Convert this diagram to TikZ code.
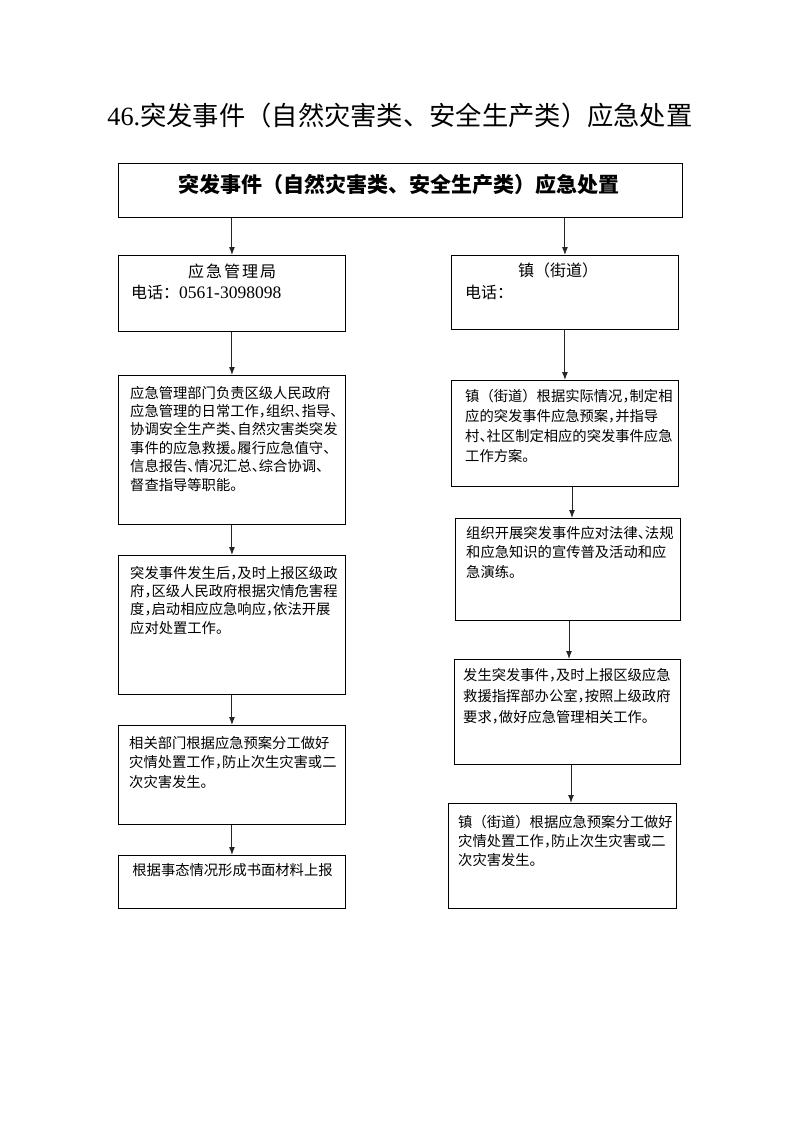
\documentclass[tikz,border=0pt]{standalone}
\usepackage{fontspec}
\setmainfont{Liberation Serif}
\newfontfamily\cjk{Noto Sans CJK SC}
\newfontfamily\cjkh[RawFeature=+halt]{Noto Sans CJK SC}
\usetikzlibrary{arrows.meta}
\begin{document}
\begin{tikzpicture}[x=1pt,y=-1pt,
 box/.style={draw,line width=0.9pt,inner sep=0pt,anchor=north west},
 arr/.style={draw=black!85,line width=1pt,-{Latex[length=8pt,width=6pt]}},
 body/.style={inner sep=0pt,anchor=base west,text width=222pt,align=left,font=\cjkh\fontsize{14.3}{#1}\selectfont}]
\useasboundingbox[fill=white] (0,0) rectangle (793,1122);

% title
\node[inner sep=0pt] (title) at (400,116) {\fontsize{26.3}{30}\selectfont 46.\cjk 突发事件（自然灾害类、安全生产类）应急处置};

% boxes
\node[box,minimum width=564pt,minimum height=54pt] (top) at (118,163) {};
\node[inner sep=0pt] (toptxt) at (399,185) {\cjk\fontsize{21}{24}\selectfont\bfseries 突发事件（自然灾害类、安全生产类）应急处置};

\node[box,minimum width=227pt,minimum height=76pt] (L1) at (118,255) {};
\node[inner sep=0pt] (L1a) at (232,271) {\cjk\fontsize{16}{18}\selectfont 应\kern2pt 急\kern2pt 管\kern2pt 理\kern2pt 局};
\node[inner sep=0pt,anchor=west] (L1b) at (131,292) {\cjk\fontsize{16}{18}\selectfont 电话：\rmfamily\fontsize{17.5}{18}\selectfont 0561-3098098};

\node[box,minimum width=227pt,minimum height=74pt] (R1) at (451,255) {};
\node[inner sep=0pt] (R1a) at (558,270) {\cjk\fontsize{16}{18}\selectfont 镇（街道）};
\node[inner sep=0pt,anchor=west] (R1b) at (465,292) {\cjk\fontsize{16}{18}\selectfont 电话：};

\node[box,minimum width=227pt,minimum height=149pt] (L2) at (118,375) {};
\node[body=18.4] (L2t) at (130,398) {应急管理部门负责区级人民政府\\应急管理的日常工作，组织、指导、\\协调安全生产类、自然灾害类突发\\事件的应急救援。履行应急值守、\\信息报告、情况汇总、综合协调、\\督查指导等职能。};

\node[box,minimum width=227pt,minimum height=139pt] (L3) at (118,555) {};
\node[body=18.4] (L3t) at (130,578) {突发事件发生后，及时上报区级政\\府，区级人民政府根据灾情危害程\\度，启动相应应急响应，依法开展\\应对处置工作。};

\node[box,minimum width=227pt,minimum height=99pt] (L4) at (118,725) {};
\node[body=19.5] (L4t) at (129,748) {相关部门根据应急预案分工做好\\灾情处置工作，防止次生灾害或二\\次灾害发生。};

\node[box,minimum width=227pt,minimum height=53pt] (L5) at (118,855) {};
\node[inner sep=0pt] (L5t) at (232.5,870) {\cjkh\fontsize{14.3}{16}\selectfont 根据事态情况形成书面材料上报};

\node[box,minimum width=227pt,minimum height=106pt] (R2) at (451,380) {};
\node[body=20.3] (R2t) at (465,401) {镇{\cjk （}街道{\cjk ）}根据实际情况，制定相\\应的突发事件应急预案，并指导\\村、社区制定相应的突发事件应急\\工作方案。};

\node[box,minimum width=225pt,minimum height=102pt] (R3) at (455,518) {};
\node[body=19.5] (R3t) at (466,538) {组织开展突发事件应对法律、法规\\和应急知识的宣传普及活动和应\\急演练。};

\node[box,minimum width=226pt,minimum height=105pt] (R4) at (454,659) {};
\node[body=21] (R4t) at (463,680) {发生突发事件，及时上报区级应急\\救援指挥部办公室，按照上级政府\\要求，做好应急管理相关工作。};

\node[box,minimum width=228pt,minimum height=105pt] (R5) at (448,803) {};
\node[body=19] (R5t) at (458,827) {镇{\cjk （}街道{\cjk ）}根据应急预案分工做好\\灾情处置工作，防止次生灾害或二\\次灾害发生。};

% arrows
\draw[arr] (top.south -| L1.north) -- (L1.north);
\draw[arr] (top.south -| R1.north) -- (R1.north);
\draw[arr] (L1.south) -- (L2.north);
\draw[arr] (L2.south) -- (L3.north);
\draw[arr] (L3.south) -- (L4.north);
\draw[arr] (L4.south) -- (L5.north);
\draw[arr] (R1.south) -- (R1.south |- R2.north);
\draw[arr] (R2.south -| 572,0) -- (R3.north -| 572,0);
\draw[arr] (R3.south -| 569,0) -- (R4.north -| 569,0);
\draw[arr] (R4.south -| 571,0) -- (R5.north -| 571,0);
\end{tikzpicture}
\end{document}
